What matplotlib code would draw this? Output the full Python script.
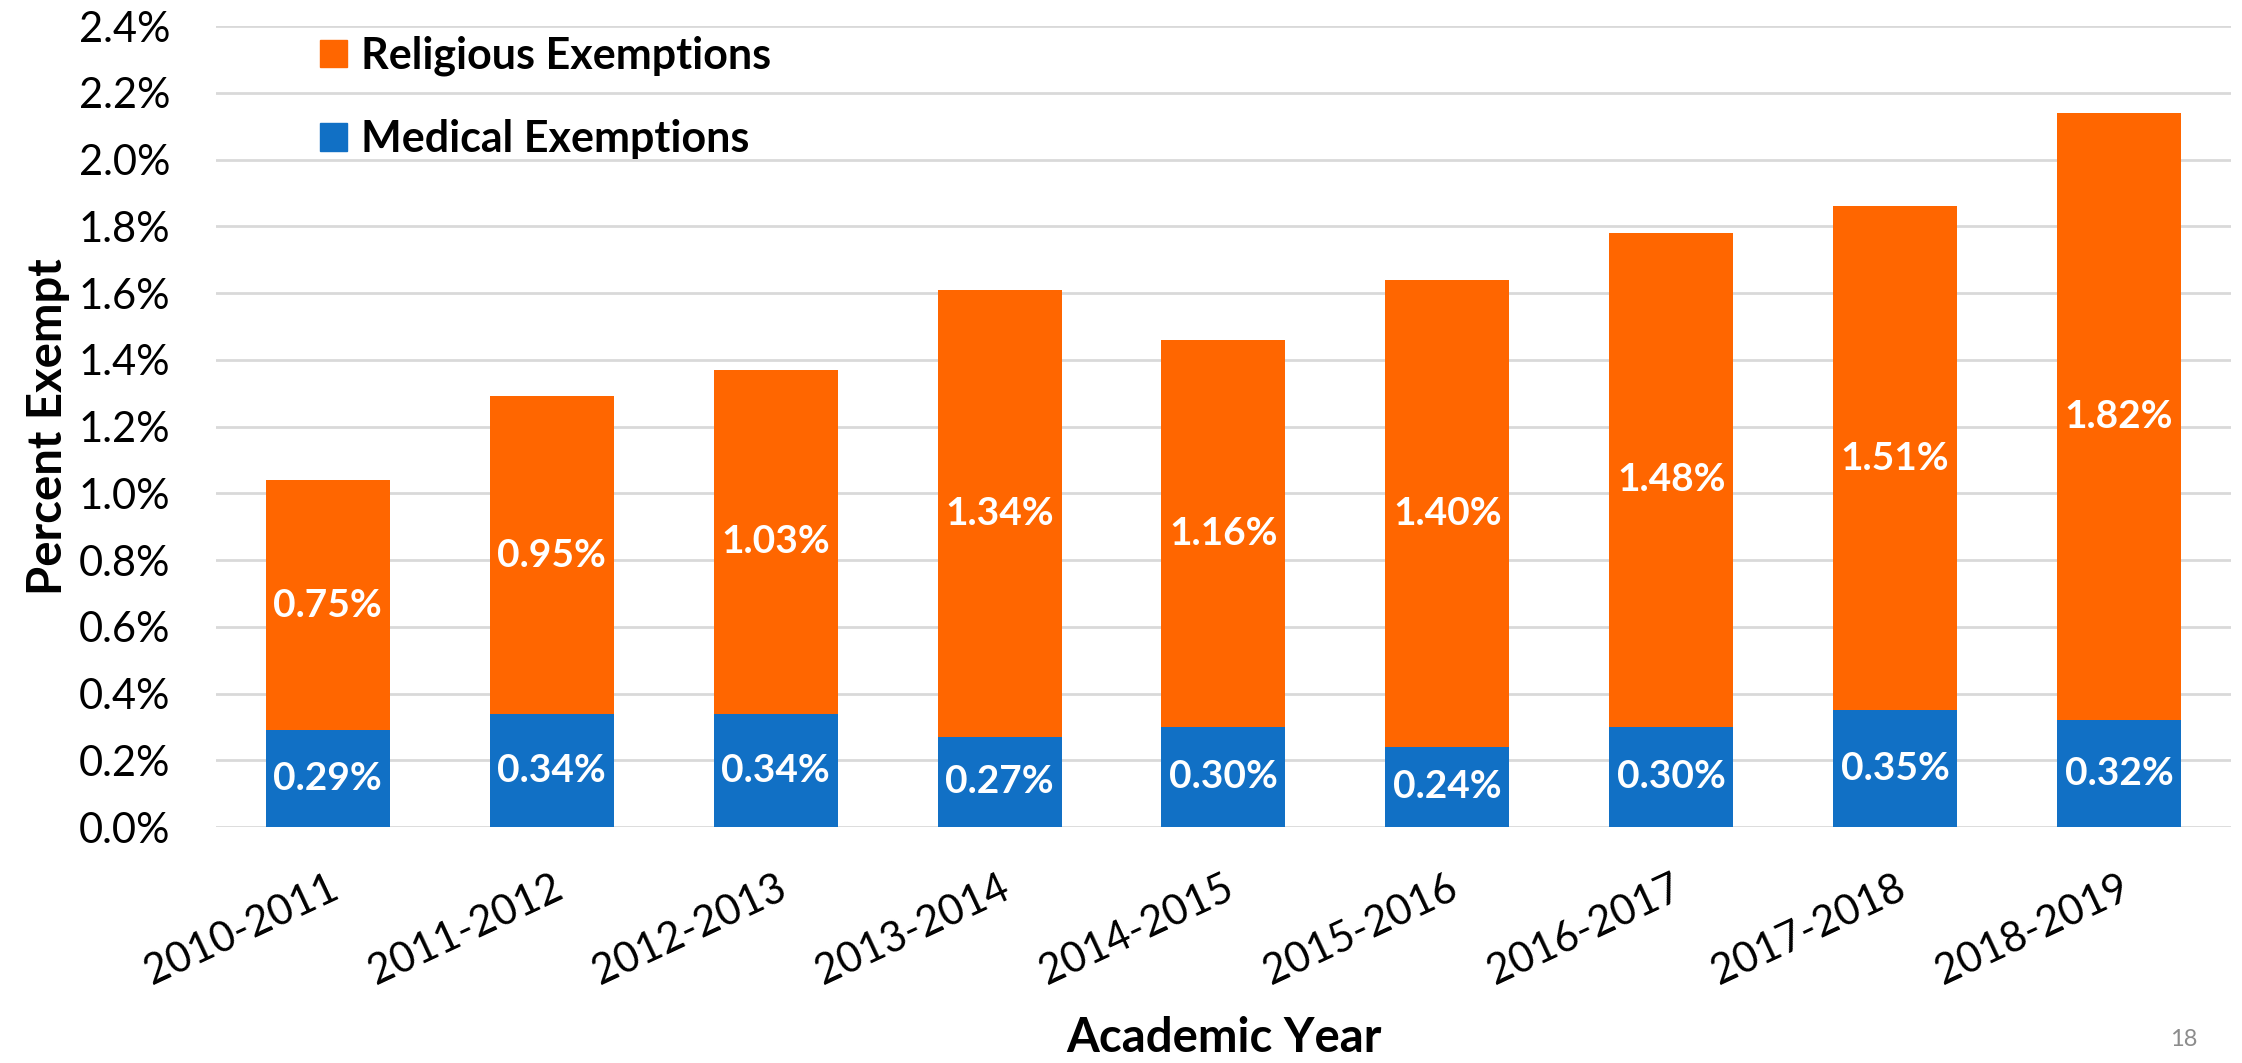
import matplotlib
matplotlib.use("Agg")
import matplotlib.pyplot as plt
from matplotlib.patches import Patch
from matplotlib.ticker import FuncFormatter, MultipleLocator

years = ["2010-2011", "2011-2012", "2012-2013", "2013-2014", "2014-2015",
         "2015-2016", "2016-2017", "2017-2018", "2018-2019"]
medical = [0.29, 0.34, 0.34, 0.27, 0.30, 0.24, 0.30, 0.35, 0.32]
religious = [0.75, 0.95, 1.03, 1.34, 1.16, 1.40, 1.48, 1.51, 1.82]

BLUE = "#1170C5"
ORANGE = "#FF6600"
FONT = ["Lato", "DejaVu Sans"]
plt.rcParams['font.family'] = FONT

fig = plt.figure(figsize=(22.42, 10.63), dpi=100)
ax = fig.add_axes([0.0963, 0.222, 0.8988, 0.7535])

x = list(range(len(years)))
w = 0.554
ax.bar(x, medical, width=w, color=BLUE, zorder=3, label="Medical Exemptions")
ax.bar(x, religious, width=w, bottom=medical, color=ORANGE, zorder=3,
       label="Religious Exemptions")

for i in x:
    ax.text(i, medical[i] / 2, f"{medical[i]:.2f}%", ha="center", va="center",
            color="white", fontsize=28, fontweight="bold", zorder=4)
    ax.text(i, medical[i] + religious[i] / 2, f"{religious[i]:.2f}%", ha="center",
            va="center", color="white", fontsize=28, fontweight="bold", zorder=4)

ax.set_xlim(-0.5, len(years) - 0.5)
ax.set_ylim(0, 2.4)
ax.yaxis.set_major_locator(MultipleLocator(0.2))
ax.yaxis.set_major_formatter(FuncFormatter(lambda v, p: f"{v:.1f}%"))
ax.grid(axis="y", color="#D9D9D9", linewidth=2, zorder=0)
ax.set_axisbelow(True)
for s in ax.spines.values():
    s.set_visible(False)
ax.tick_params(axis="both", length=0, labelsize=30)
ax.tick_params(axis="y", pad=33)
ax.set_xticks(x)
ax.set_xticklabels(years, rotation=25, ha="right", rotation_mode="anchor")
ax.tick_params(axis="x", pad=30)

ax.set_ylabel("Percent Exempt", fontsize=34, fontweight="bold", labelpad=6)
ax.set_xlabel("Academic Year", fontsize=34, fontweight="bold", labelpad=18)

handles = [Patch(color=ORANGE), Patch(color=BLUE)]
ax.legend(handles, ["Religious Exemptions", "Medical Exemptions"],
          loc="upper left", bbox_to_anchor=(0.0346, 1.031), frameon=False,
          prop={"size": 31, "weight": "bold"}, handlelength=0.62, handleheight=0.62,
          handletextpad=0.33, labelspacing=1.0, borderaxespad=0.4)

fig.text(0.9738, 0.022, "18", color="#8C8C8C", fontsize=17, ha="center", va="center")

fig.savefig("out.png", dpi=100, facecolor="white")
